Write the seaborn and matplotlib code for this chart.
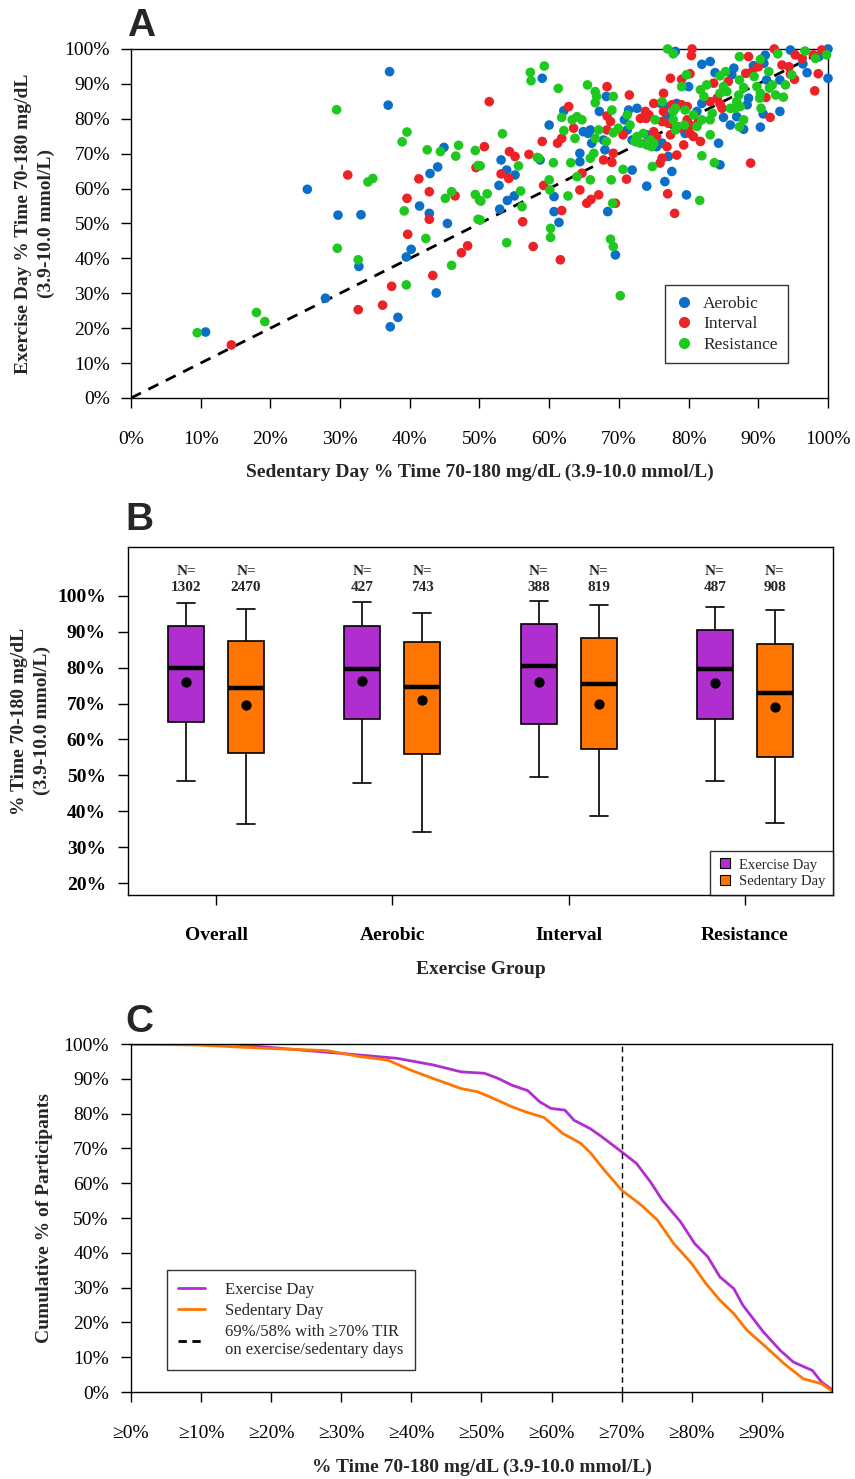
import numpy as np
import pandas as pd
import matplotlib
matplotlib.use("Agg")
import matplotlib.pyplot as plt
import seaborn as sns
from matplotlib.lines import Line2D

sns.set_style("ticks")
plt.rcParams['font.family'] = ['Liberation Serif', 'DejaVu Serif']

# ---- Panel A: per-participant % TIR, sedentary day (x) vs exercise day (y)
aerobic_x = [37.1, 36.9, 44.9, 44.0, 42.9, 25.3, 41.4, 29.7, 33.0, 42.8, 45.4, 40.2, 39.5, 32.7, 43.8,
             27.9, 38.3, 37.2, 10.7, 78.1, 81.9, 83.1, 91.0, 94.6, 100, 98.7, 96.4, 97.0, 100, 93.1,
             93.1, 91.2, 90.8, 89.3, 90.7, 90.3, 88.6, 88.4, 86.9, 87.9, 86.0, 86.5, 86.2, 83.8, 85.0,
             84.3, 84.5, 81.9, 80.0, 78.3, 76.6, 76.9, 79.5, 76.2, 75.4, 74.0, 71.9, 72.6, 71.4, 71.2,
             70.8, 77.1, 77.6, 76.6, 74.0, 71.9, 79.7, 69.5, 68.4, 68.0, 67.8, 68.2, 67.2, 65.9, 65.6,
             66.1, 64.9, 62.1, 59.0, 60.0, 58.7, 60.7, 60.7, 61.4, 64.4, 64.4, 55.0, 54.0, 52.9, 52.8,
             53.9, 55.1, 53.1, 76.0, 81.2]
aerobic_y = [93.5, 83.9, 71.8, 66.2, 64.3, 59.8, 55.0, 52.4, 52.5, 52.9, 50.0, 42.6, 40.4, 37.7, 30.1,
             28.6, 23.1, 20.4, 18.9, 99.3, 95.6, 96.4, 98.2, 99.7, 100, 97.8, 95.7, 93.2, 91.6, 91.1,
             82.1, 91.1, 95.9, 95.2, 81.4, 77.6, 85.9, 84.0, 80.6, 77.0, 78.2, 94.5, 92.6, 93.2, 80.4,
             73.0, 66.8, 84.4, 89.2, 84.4, 83.5, 80.6, 75.8, 73.0, 72.0, 75.4, 73.9, 83.0, 82.5, 76.8,
             79.7, 69.2, 64.9, 62.0, 60.7, 65.3, 58.2, 41.0, 53.4, 71.1, 73.9, 86.4, 82.1, 76.8, 75.8,
             73.0, 76.3, 82.3, 91.6, 78.2, 68.2, 57.7, 53.4, 50.3, 70.1, 67.7, 57.9, 56.6, 54.1, 60.9,
             65.3, 63.9, 68.2, 84.4, 82.1]

interval_x = [31.1, 41.3, 42.8, 39.6, 46.5, 49.5, 42.8, 39.7, 48.3, 47.4, 43.3, 37.4, 32.6, 36.1, 14.4,
              80.5, 80.4, 88.6, 92.3, 97.9, 99.1, 95.3, 96.3, 93.4, 94.4, 98.6, 98.1, 94.6, 95.2, 91.7,
              90.0, 89.1, 88.2, 91.1, 88.9, 85.7, 83.6, 84.1, 84.5, 84.8, 83.1, 81.4, 81.7, 80.7, 80.2,
              80.2, 79.8, 79.8, 79.0, 80.2, 79.0, 77.4, 77.6, 76.4, 78.8, 77.4, 76.2, 75.0, 75.4, 76.9,
              73.9, 73.1, 73.8, 74.3, 75.0, 70.6, 71.5, 76.4, 78.3, 76.2, 75.9, 71.1, 77.0, 78.0, 79.3,
              69.5, 69.0, 67.8, 69.2, 68.3, 68.8, 68.3, 68.3, 62.8, 63.5, 61.8, 61.2, 59.0, 57.1, 61.8,
              61.6, 64.7, 64.4, 65.4, 66.0, 67.1, 59.2, 56.2, 57.7, 54.2, 53.1, 54.3, 55.1, 50.7, 51.4,
              77.1]
interval_y = [63.9, 62.8, 59.1, 57.2, 57.9, 66.0, 51.2, 46.9, 43.6, 41.6, 35.1, 32.0, 25.3, 26.6, 15.2,
              100, 98.1, 97.8, 100, 98.3, 99.7, 98.3, 97.3, 95.4, 94.9, 92.9, 88.0, 92.8, 91.3, 80.4,
              94.9, 93.5, 93.0, 86.1, 67.3, 90.7, 90.2, 85.9, 84.3, 83.0, 84.9, 79.2, 73.5, 74.9, 75.8,
              78.2, 79.7, 83.5, 84.0, 92.9, 91.3, 91.6, 84.0, 82.1, 77.3, 75.4, 79.2, 76.3, 74.9, 72.0,
              80.1, 80.1, 82.1, 81.1, 84.4, 75.4, 86.8, 87.3, 69.6, 68.7, 67.3, 62.7, 58.5, 52.9, 72.5,
              55.8, 67.5, 68.2, 70.1, 76.8, 79.2, 80.8, 89.2, 83.5, 77.3, 74.4, 73.0, 73.5, 69.8, 53.7,
              39.6, 64.4, 59.6, 55.8, 56.9, 58.2, 60.9, 50.5, 43.4, 62.9, 64.2, 70.6, 69.2, 72.0, 84.9,
              78.7]

resistance_x = [29.5, 39.6, 38.9, 42.5, 44.4, 47.0, 46.6, 49.4, 49.8, 34.0, 34.7, 46.0, 45.1, 49.4, 50.0,
                39.2, 49.8, 42.3, 29.6, 32.6, 46.0, 39.5, 18.0, 19.2, 9.5, 77.0, 77.8, 87.3, 90.3, 92.8,
                96.7, 99.8, 98.2, 94.8, 93.9, 93.6, 92.5, 92.0, 91.6, 91.5, 89.4, 89.8, 90.3, 90.2, 90.4,
                87.9, 87.3, 87.2, 86.9, 87.4, 86.7, 86.0, 87.9, 87.3, 85.3, 84.5, 85.0, 85.5, 84.5, 83.7,
                83.1, 83.1, 83.4, 82.6, 81.7, 82.2, 81.9, 81.2, 81.9, 79.4, 79.5, 79.0, 79.7, 78.1, 77.8,
                76.2, 77.8, 78.3, 78.1, 75.2, 75.0, 74.5, 73.5, 72.6, 72.3, 73.1, 74.0, 74.7, 71.2, 71.6,
                70.6, 74.8, 81.6, 69.2, 68.8, 70.2, 69.1, 68.9, 68.2, 69.2, 69.9, 69.0, 69.2, 66.6, 66.8,
                66.6, 65.5, 67.1, 66.6, 64.7, 64.0, 63.3, 63.7, 62.1, 61.3, 59.3, 57.3, 57.4, 58.5, 60.6,
                60.2, 60.2, 62.7, 63.1, 64.0, 65.9, 65.9, 66.4, 60.0, 60.1, 58.3, 55.9, 56.1, 53.9, 51.1,
                50.2, 50.1, 55.6, 53.3, 50.1, 61.8, 80.7]
resistance_y = [82.6, 76.2, 73.4, 71.1, 70.6, 72.4, 69.3, 70.9, 66.6, 61.9, 62.9, 59.1, 57.2, 58.3, 56.7,
                53.6, 51.2, 45.7, 42.9, 39.6, 38.0, 32.4, 24.5, 21.9, 18.7, 100, 98.6, 97.8, 97.0, 98.6,
                99.4, 98.3, 97.3, 92.6, 89.7, 86.2, 86.8, 89.7, 88.8, 93.5, 92.1, 89.2, 87.3, 85.9, 83.0,
                88.9, 91.1, 86.8, 84.9, 83.5, 83.0, 83.0, 79.7, 77.7, 93.5, 92.3, 89.2, 87.8, 87.3, 67.4,
                75.4, 79.7, 81.6, 89.7, 88.3, 86.4, 79.7, 77.8, 69.4, 78.2, 82.5, 89.2, 92.6, 83.0, 82.1,
                84.9, 79.7, 77.8, 76.8, 79.7, 73.0, 73.9, 75.8, 74.9, 73.5, 73.0, 72.5, 72.0, 81.1, 78.2,
                65.5, 66.3, 56.6, 43.4, 45.5, 29.3, 55.8, 62.5, 73.5, 76.0, 77.3, 82.5, 86.4, 87.8, 86.4,
                84.6, 89.7, 76.8, 74.4, 79.7, 80.6, 79.7, 74.4, 76.6, 88.7, 95.1, 93.3, 90.9, 68.7, 67.4,
                48.6, 46.0, 57.9, 67.4, 63.4, 62.5, 68.7, 70.1, 62.5, 59.6, 68.9, 59.3, 54.8, 44.5, 58.5,
                56.4, 51.0, 66.5, 75.7, 66.5, 80.4, 81.1]

scatter_groups = ['Aerobic', 'Interval', 'Resistance']
scatter_colors = ['#0a6fc8', '#ec2227', '#1ec81e']

# ---- Panel B: box summaries by exercise group
groups = ['Overall', 'Aerobic', 'Interval', 'Resistance']
days = ['Exercise Day', 'Sedentary Day']
ex_low = [48.3, 47.8, 49.6, 48.4]
ex_q1 = [64.9, 65.6, 64.3, 65.8]
ex_med = [79.8, 79.6, 80.5, 79.7]
ex_q3 = [91.5, 91.7, 92.1, 90.6]
ex_high = [97.9, 98.4, 98.6, 97.0]
ex_mean = [76.0, 76.3, 76.0, 75.8]
sed_low = [36.5, 34.1, 38.6, 36.7]
sed_q1 = [56.3, 56.0, 57.3, 55.2]
sed_med = [74.4, 74.7, 75.3, 72.8]
sed_q3 = [87.3, 87.2, 88.3, 86.5]
sed_high = [96.3, 95.3, 97.4, 96.1]
sed_mean = [69.5, 71.1, 69.8, 69.0]
n_ex = [1302, 427, 388, 487]
n_sed = [2470, 743, 819, 908]

# ---- Panel C: cumulative % of participants with TIR >= x
ex_curve_x = [0, 14.8, 18.8, 30.0, 37.9, 43.1, 47.1, 50.4, 52.4, 54.3, 56.6, 58.3, 59.9, 61.9, 63.2,
              65.5, 67.2, 70.0, 72.1, 74.1, 75.8, 78.4, 80.4, 82.3, 84.0, 86.0, 87.3, 90.2, 92.6, 94.5,
              97.2, 98.5, 100]
ex_curve_y = [100, 100, 99.2, 97.3, 95.9, 94.0, 92.0, 91.6, 90.1, 88.2, 86.6, 83.4, 81.5, 81.0, 78.1,
              75.7, 73.3, 69.0, 65.7, 60.4, 55.1, 48.9, 42.7, 38.8, 33.1, 29.7, 24.9, 17.3, 12.0, 8.6,
              6.2, 2.9, 0.7]
sed_curve_x = [0, 9.6, 18.8, 28.0, 32.6, 36.6, 39.9, 43.1, 47.1, 49.4, 51.1, 54.3, 56.3, 58.9, 61.6,
               64.2, 65.6, 67.5, 70.0, 72.8, 75.1, 77.4, 80.0, 82.0, 84.0, 86.0, 87.9, 90.6, 93.2, 95.9,
               98.5, 100]
sed_curve_y = [100, 99.7, 98.8, 98.1, 96.4, 95.4, 92.5, 90.1, 87.2, 86.3, 84.9, 82.0, 80.5, 78.9, 74.3,
               71.4, 68.6, 63.8, 58.0, 53.7, 49.4, 42.7, 36.9, 31.2, 26.4, 22.5, 17.7, 12.9, 8.1, 3.8,
               2.4, 0.3]

purple = '#b02ed0'
orange = '#ff7500'
pct_ticks = list(range(0, 101, 10))

fig = plt.figure(figsize=(8.55, 14.79), dpi=100)
ax1 = fig.add_axes([0.1532, 0.7309, 0.8152, 0.2360])
ax2 = fig.add_axes([0.1497, 0.3949, 0.8246, 0.2353])
ax3 = fig.add_axes([0.1532, 0.0588, 0.8199, 0.2353])

for ax in (ax1, ax2, ax3):
    for s in ax.spines.values():
        s.set_visible(True)
        s.set_color('black')
        s.set_linewidth(1.0)
    ax.tick_params(direction='out', length=7, width=1, colors='black', labelsize=14)

# ---------------- A
dfa = pd.concat([
    pd.DataFrame({'sed': aerobic_x, 'ex': aerobic_y, 'group': 'Aerobic'}),
    pd.DataFrame({'sed': interval_x, 'ex': interval_y, 'group': 'Interval'}),
    pd.DataFrame({'sed': resistance_x, 'ex': resistance_y, 'group': 'Resistance'}),
])
ax1.plot([0, 100], [0, 100], ls=(0, (4, 3)), color='black', lw=2, zorder=1)
sns.scatterplot(data=dfa, x='sed', y='ex', hue='group', hue_order=scatter_groups,
                palette=scatter_colors, s=48, linewidth=0, ax=ax1, clip_on=False, zorder=3,
                legend=False)
ax1.set_xlim(0, 100)
ax1.set_ylim(0, 100)
ax1.set_xticks(pct_ticks)
ax1.set_xticklabels([f"{v}%" for v in pct_ticks])
ax1.set_yticks(pct_ticks)
ax1.set_yticklabels([f"{v}%" for v in pct_ticks])
ax1.tick_params(axis='x', pad=17)
ax1.tick_params(axis='y', pad=8)
ax1.set_xlabel('')
ax1.set_ylabel('')
ax1.text(0.5, -0.212, 'Sedentary Day % Time 70-180 mg/dL (3.9-10.0 mmol/L)', transform=ax1.transAxes,
         ha='center', va='center', fontsize=14, fontweight='bold')
ax1.text(-0.138, 0.5, 'Exercise Day % Time 70-180 mg/dL\n(3.9-10.0 mmol/L)', transform=ax1.transAxes,
         ha='center', va='center', rotation=90, fontsize=14, fontweight='bold', linespacing=1.4)
h1 = [Line2D([], [], marker='o', ls='', color=c, markersize=7) for c in scatter_colors]
leg1 = ax1.legend(h1, scatter_groups, loc='lower right', bbox_to_anchor=(0.955, 0.075), fontsize=12.5,
                  frameon=True, fancybox=False, edgecolor='black', handletextpad=0.6,
                  borderpad=0.6, labelspacing=0.25, handlelength=1.0)
leg1.get_frame().set_linewidth(1.0)

# ---------------- B
rows = []
for i, g in enumerate(groups):
    for v in [ex_low[i], ex_q1[i], ex_med[i], ex_q3[i], ex_high[i]]:
        rows.append({'group': g, 'day': days[0], 'value': v})
    for v in [sed_low[i], sed_q1[i], sed_med[i], sed_q3[i], sed_high[i]]:
        rows.append({'group': g, 'day': days[1], 'value': v})
dfb = pd.DataFrame(rows)
box_w = 0.68
sns.boxplot(data=dfb, x='group', y='value', hue='day', order=groups, hue_order=days,
            palette=[purple, orange], saturation=1, width=box_w, gap=0.4, whis=(0, 100),
            linecolor='black', linewidth=1.2, showfliers=False, ax=ax2, legend=False,
            medianprops={'linewidth': 3.2, 'color': 'black'})
pos = np.arange(len(groups))
sns.scatterplot(x=np.concatenate([pos - box_w / 4, pos + box_w / 4]), y=ex_mean + sed_mean,
                color='black', s=55, linewidth=0, ax=ax2, zorder=5)
for i in range(len(groups)):
    ax2.text(pos[i] - box_w / 4, 104.5, f"N=\n{n_ex[i]}", ha='center', va='center', fontsize=11,
             fontweight='bold', linespacing=1.25)
    ax2.text(pos[i] + box_w / 4, 104.5, f"N=\n{n_sed[i]}", ha='center', va='center', fontsize=11,
             fontweight='bold', linespacing=1.25)
ax2.set_xlim(-0.5, 3.5)
ax2.set_ylim(16.7, 113.6)
yt2 = list(range(20, 101, 10))
ax2.set_yticks(yt2)
ax2.set_yticklabels([f"{v}%" for v in yt2], fontweight='bold')
ax2.set_xticks(pos)
ax2.set_xticklabels(groups, fontweight='bold')
ax2.tick_params(axis='x', pad=16)
ax2.tick_params(axis='y', pad=9)
ax2.set_xlabel('')
ax2.set_ylabel('')
ax2.text(0.5, -0.2155, 'Exercise Group', transform=ax2.transAxes, ha='center', va='center',
         fontsize=14, fontweight='bold')
ax2.text(-0.1376, 0.5, '% Time 70-180 mg/dL\n(3.9-10.0 mmol/L)', transform=ax2.transAxes,
         ha='center', va='center', rotation=90, fontsize=14, fontweight='bold', linespacing=1.4)
h2 = [Line2D([], [], marker='s', ls='', markerfacecolor=c, markeredgecolor='black',
             markeredgewidth=0.8, markersize=6.5) for c in [purple, orange]]
leg2 = ax2.legend(h2, days, loc='lower right', bbox_to_anchor=(1.0, 0.0), borderaxespad=0,
                  fontsize=10.5, frameon=True, fancybox=False, edgecolor='black',
                  handletextpad=0.5, borderpad=0.5, labelspacing=0.2, handlelength=1.0)
leg2.get_frame().set_linewidth(1.0)

# ---------------- C
sns.lineplot(x=ex_curve_x, y=ex_curve_y, color=purple, lw=2, sort=False, estimator=None, ax=ax3)
sns.lineplot(x=sed_curve_x, y=sed_curve_y, color=orange, lw=2, sort=False, estimator=None, ax=ax3)
ax3.axvline(70, ls=(0, (4, 3)), color='black', lw=1)
ax3.set_xlim(0, 100)
ax3.set_ylim(0, 100)
xt3 = list(range(0, 91, 10))
ax3.set_xticks(xt3)
ax3.set_xticklabels([f"\u2265{v}%" for v in xt3])
ax3.set_yticks(pct_ticks)
ax3.set_yticklabels([f"{v}%" for v in pct_ticks])
ax3.tick_params(axis='x', pad=17)
ax3.tick_params(axis='y', pad=9)
ax3.set_xlabel('')
ax3.set_ylabel('')
ax3.text(0.5, -0.2155, '% Time 70-180 mg/dL (3.9-10.0 mmol/L)', transform=ax3.transAxes,
         ha='center', va='center', fontsize=14, fontweight='bold')
ax3.text(-0.1227, 0.5, 'Cumulative % of Participants', transform=ax3.transAxes,
         ha='center', va='center', rotation=90, fontsize=14, fontweight='bold')
h3 = [Line2D([], [], color=purple, lw=2), Line2D([], [], color=orange, lw=2),
      Line2D([], [], color='black', lw=2, ls=(0, (3, 2)))]
lab3 = ['Exercise Day', 'Sedentary Day', '69%/58% with \u226570% TIR\non exercise/sedentary days']
leg3 = ax3.legend(h3, lab3, loc='lower left', bbox_to_anchor=(0.051, 0.063), borderaxespad=0,
                  fontsize=12, frameon=True, fancybox=False, edgecolor='black',
                  handletextpad=1.2, borderpad=0.7, labelspacing=0.3, handlelength=1.6)
leg3.get_frame().set_linewidth(1.0)

# panel letters
for lab, (x, y) in zip(['A', 'B', 'C'], [(0.165, 0.9824), (0.1626, 0.6484), (0.1626, 0.309)]):
    fig.text(x, y, lab, ha='center', va='center', fontsize=28, fontweight='bold',
             family=['Liberation Sans', 'DejaVu Sans'])

fig.savefig('out.png', dpi=100)
